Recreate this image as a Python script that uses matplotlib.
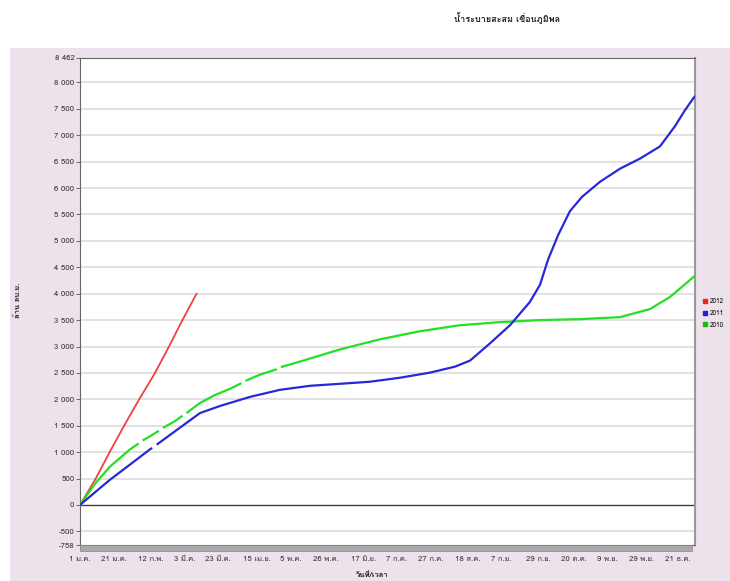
import numpy as np
import matplotlib
matplotlib.use("Agg")
import matplotlib.pyplot as plt
from matplotlib import font_manager
from matplotlib.patches import Rectangle
from matplotlib.lines import Line2D

# ---- pick a font that has Thai glyphs ----
def thai_font():
    try:
        from fontTools.ttLib import TTFont
    except Exception:
        return None
    seen = set()
    for f in font_manager.fontManager.ttflist:
        if f.fname in seen:
            continue
        seen.add(f.fname)
        try:
            tt = TTFont(f.fname, fontNumber=0, lazy=True)
            cmap = tt.getBestCmap()
            if cmap and 0x0E19 in cmap and 0x0E49 in cmap:
                return f.name
        except Exception:
            continue
    return None

tf = thai_font()
families = ([tf] if tf else []) + ["DejaVu Sans"]
plt.rcParams["font.family"] = families

# ---- data ----
title = "น้ำระบายสะสม เขื่อนภูมิพล"
ylabel = "ล้าน ลบ.ม."
xlabel = "วันที่/เวลา"
series_names = ["2012", "2011", "2010"]

red_days = [0, 9, 17.8, 26.7, 35.6, 44, 51.6, 60, 69.4]
red_vals = [0, 480, 1013, 1530, 2027, 2470, 2925, 3450, 4015]

blue_days = [0, 8.9, 17.8, 29.7, 41.5, 42.8, 44, 45.5, 56.4, 71.2, 83.1, 100.9, 118.7,
             136.5, 154.3, 172.1, 189.9, 207.7, 222.6, 231.5, 243.3, 255.2,
             267, 273, 277.8, 283.7, 290.8, 297.9, 308.6, 320.5, 332.4, 344.2,
             353.1, 359.1, 365]
blue_vals = [0, 240, 478, 765, 1052, 1080, np.nan, 1140, 1396, 1740, 1874, 2046, 2180,
             2256, 2294, 2333, 2409, 2505, 2619, 2734, 3059, 3403,
             3843, 4168, 4646, 5105, 5564, 5832, 6118, 6367, 6558, 6788,
             7170, 7476, 7744]

green_days = [0, 8.9, 17.8, 29.7, 34.8, 36, 37.2, 41.5, 46.8, 48, 49.2, 56.4,
              60.8, 62, 63.2, 71.2, 80, 89, 95.8, 97, 98.2, 106.8,
              116.8, 118, 119.2, 130.6, 154.3, 178, 201.8,
              225.5, 249.3, 273, 296.8, 320.5, 338.3, 350.2, 365]
green_vals = [0, 400, 727, 1052, 1165, np.nan, 1220, 1300, 1405, np.nan, 1460, 1587,
              1690, np.nan, 1740, 1931, 2080, 2199, 2305, np.nan, 2350, 2467,
              2570, np.nan, 2610, 2715, 2945, 3136, 3289,
              3403, 3461, 3500, 3518, 3556, 3709, 3939, 4340]

xtick_days = [0, 20, 42, 62, 82, 105, 125, 146, 168, 188, 208, 230, 250, 272,
              293, 313, 333, 355]
xtick_labels = ["1 ม.ค.", "21 ม.ค.", "12 ก.พ.", "3 มี.ค.", "23 มี.ค.", "15 เม.ย.",
                "5 พ.ค.", "26 พ.ค.", "17 มิ.ย.", "7 ก.ค.", "27 ก.ค.", "18 ส.ค.",
                "7 ก.ย.", "29 ก.ย.", "20 ต.ค.", "9 พ.ย.", "29 พ.ย.", "21 ธ.ค."]

ytick_vals = [-758, -500, 0, 500, 1000, 1500, 2000, 2500, 3000, 3500, 4000,
              4500, 5000, 5500, 6000, 6500, 7000, 7500, 8000, 8462]

W, H = 730, 581
fig = plt.figure(figsize=(W / 100, H / 100), dpi=100)
fig.patch.set_facecolor("white")

# pink panel
fig.patches.append(Rectangle((10 / W, 0), 1 - 10 / W, 1 - 48 / H,
                             transform=fig.transFigure, facecolor="#ede1eb",
                             edgecolor="none", zorder=-10))

ax = fig.add_axes([80 / W, 1 - 545 / H, (695 - 80) / W, (545 - 58) / H])
ax.set_facecolor("white")

ax.set_xlim(0, 365)
ax.set_ylim(-758, 8462)

for v in ytick_vals:
    if v not in (0, -758, 8462):
        ax.axhline(v, color="#e2e2e2", lw=1.4, zorder=1)
ax.axhline(0, color="#404040", lw=1.0, zorder=2)

ax.plot(red_days, red_vals, color="#f04040", lw=1.3, zorder=3,
        solid_capstyle="butt")
ax.plot(blue_days, blue_vals, color="#2828d8", lw=1.6, zorder=4,
        solid_capstyle="butt")
ax.plot(green_days, green_vals, color="#22e022", lw=1.6, zorder=3,
        solid_capstyle="butt")

ax.set_yticks(ytick_vals)
ax.set_yticklabels([f"{v:,}".replace(",", " ") for v in ytick_vals])
ax.set_xticks(xtick_days)
ax.set_xticklabels(xtick_labels)
ax.tick_params(axis="y", labelsize=5.6, length=3, width=0.6, colors="#555555",
               labelcolor="#333333", pad=1)
ax.tick_params(axis="x", labelsize=5.6, length=3, width=0.6, colors="#777777",
               labelcolor="#333333", pad=5)

for s in ax.spines.values():
    s.set_color("#666666")
    s.set_linewidth(0.8)
ax.spines["right"].set_color("#999999")
ax.spines["right"].set_linewidth(1.5)

# gray band under the plot
fig.patches.append(Rectangle((80 / W, 1 - 551 / H), (692 - 80) / W, 6 / H,
                             transform=fig.transFigure, facecolor="#a9a9a9",
                             edgecolor="#888888", lw=0.5, zorder=5))

fig.text(507 / W, 1 - 18 / H, title, ha="center", va="center", fontsize=6.5,
         fontweight="bold", color="#222222")
fig.text(18 / W, 1 - 300 / H, ylabel, ha="center", va="center", fontsize=5.5,
         rotation=90, color="#222222", fontweight="bold")
fig.text(372 / W, 1 - 575 / H, xlabel, ha="center", va="center", fontsize=5.5,
         color="#222222", fontweight="bold")

# legend at right edge
handles = [Line2D([], [], ls="none", marker="s", ms=3.5, color=c)
           for c in ["#f02020", "#2020e0", "#10c010"]]
fig.legend(handles, series_names, loc="upper left",
           bbox_to_anchor=(703 / W, 1 - 298 / H), frameon=False, fontsize=4.6,
           handlelength=0.6, handletextpad=0.4, labelspacing=0.75,
           borderaxespad=0, borderpad=0)

fig.savefig("out.png", dpi=100)
